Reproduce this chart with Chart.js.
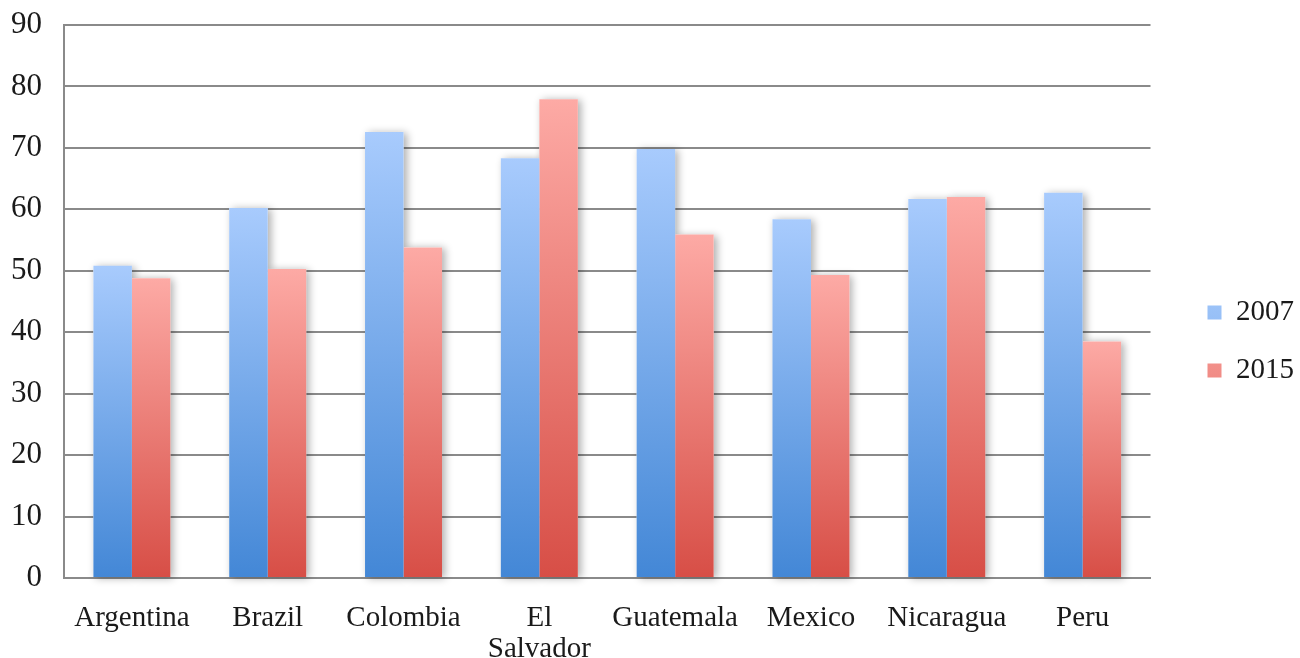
<!DOCTYPE html>
<html>
<head>
<meta charset="utf-8">
<script src="https://cdn.jsdelivr.net/npm/chart.js@4.4.1/dist/chart.umd.min.js"></script>
<style>
  html, body { margin: 0; padding: 0; background: #ffffff; }
  #wrap { width: 1300px; height: 658px; position: relative; }
</style>
</head>
<body>
<div id="wrap"><canvas id="chart"></canvas></div>
<script>
// Categories and series
const countries = ['Argentina', 'Brazil', 'Colombia', ['El', 'Salvador'], 'Guatemala', 'Mexico', 'Nicaragua', 'Peru'];
const seriesNames = ['2007', '2015'];
const values2007 = [50.8, 60.2, 72.6, 68.3, 69.8, 58.4, 61.7, 62.7];
const values2015 = [48.8, 50.3, 53.8, 77.9, 55.9, 49.3, 62.0, 38.5];
const yTicks = [0, 10, 20, 30, 40, 50, 60, 70, 80, 90];

const FONT = "'Liberation Serif', 'Times New Roman', serif";
const TEXT = '#1a1a1a';
const GRID = '#8a8a8a';

// Vertical gradient running from the top of each bar down to its base
function barFill(topColor, bottomColor, flatColor) {
  return (c) => {
    if (c.type !== 'data') return flatColor;
    const chart = c.chart;
    const y = chart.scales && chart.scales.y;
    if (!y || !chart.chartArea) return flatColor;
    const yTop = y.getPixelForValue(c.raw);
    const yBase = y.getPixelForValue(0);
    if (!isFinite(yTop) || !isFinite(yBase) || yTop === yBase) return flatColor;
    const g = chart.ctx.createLinearGradient(0, yTop, 0, yBase);
    g.addColorStop(0, topColor);
    g.addColorStop(1, bottomColor);
    return g;
  };
}

// Soft drop shadow behind every bar
const barShadow = {
  id: 'barShadow',
  beforeDatasetsDraw(chart) {
    const ctx = chart.ctx;
    ctx.save();
    ctx.shadowColor = 'rgba(0,0,0,0.32)';
    ctx.shadowBlur = 8;
    ctx.shadowOffsetX = 3;
    ctx.shadowOffsetY = 1;
    ctx.fillStyle = '#ffffff';
    chart.getSortedVisibleDatasetMetas().forEach(meta => {
      meta.data.forEach(bar => {
        const p = bar.getProps(['x', 'y', 'base', 'width'], true);
        ctx.fillRect(p.x - p.width / 2, Math.min(p.y, p.base), p.width, Math.abs(p.base - p.y));
      });
    });
    ctx.restore();
  }
};

// Let the top tick label overhang the plot instead of pushing it down
function noOverhang(s) {
  s.paddingTop = 0;
  s.paddingBottom = 0;
}

new Chart(document.getElementById('chart'), {
  type: 'bar',
  data: {
    labels: countries,
    datasets: [
      {
        label: seriesNames[0],
        data: values2007,
        backgroundColor: barFill('#a8cbfd', '#4387d6', '#7aaaf0'),
        borderWidth: 0
      },
      {
        label: seriesNames[1],
        data: values2015,
        backgroundColor: barFill('#fdaaa5', '#d74e46', '#ee8680'),
        borderWidth: 0
      }
    ]
  },
  options: {
    responsive: true,
    maintainAspectRatio: false,
    animation: false,
    events: [],
    layout: { padding: { top: 25, right: -4, bottom: 0, left: 0 } },
    datasets: {
      bar: { categoryPercentage: 0.567, barPercentage: 1.0 }
    },
    scales: {
      x: {
        grid: { display: false, drawTicks: false },
        border: { display: true, color: GRID, width: 2 },
        ticks: {
          color: TEXT,
          font: { family: FONT, size: 29, lineHeight: 1.1 },
          padding: 24,
          maxRotation: 0,
          autoSkip: false
        },
        afterFit(s) { s.height = 80; }
      },
      y: {
        min: yTicks[0],
        max: yTicks[yTicks.length - 1],
        afterBuildTicks(s) { s.ticks = yTicks.map(v => ({ value: v })); },
        grid: { color: GRID, lineWidth: 2, drawTicks: false },
        border: { display: true, color: GRID, width: 2 },
        ticks: {
          color: TEXT,
          font: { family: FONT, size: 31 },
          padding: 22
        },
        afterFit(s) { s.width = 64; noOverhang(s); }
      },
      // empty spacer between the plot and the legend
      yGap: {
        type: 'linear',
        position: 'right',
        display: true,
        grid: { display: false, drawTicks: false },
        border: { display: false },
        ticks: { display: false },
        afterFit(s) { s.width = 28; noOverhang(s); }
      }
    },
    plugins: {
      legend: {
        position: 'right',
        align: 'center',
        labels: {
          color: TEXT,
          font: { family: FONT, size: 29 },
          boxWidth: 14,
          boxHeight: 14,
          padding: 29
        }
      },
      tooltip: { enabled: false }
    }
  },
  plugins: [barShadow]
});
</script>
</body>
</html>
